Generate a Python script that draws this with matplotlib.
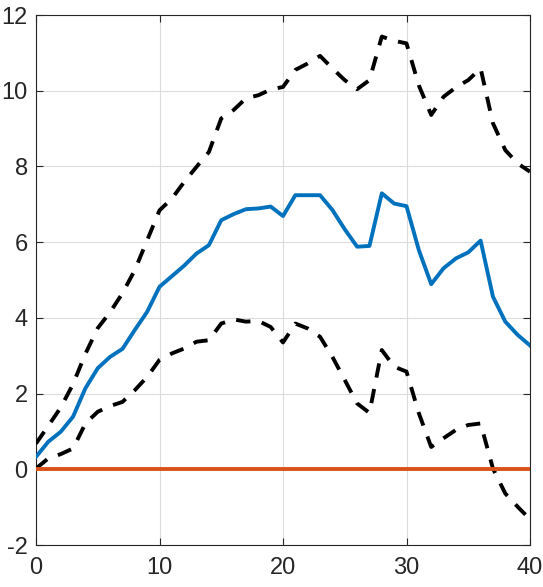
import matplotlib
matplotlib.use("Agg")
import matplotlib.pyplot as plt
import numpy as np

horizon = list(range(0, 41))
median = [0.33, 0.73, 0.99, 1.39, 2.14, 2.67, 2.97, 3.18, 3.68, 4.16,
          4.82, 5.10, 5.38, 5.70, 5.92, 6.58, 6.74, 6.87, 6.89, 6.94,
          6.69, 7.24, 7.24, 7.24, 6.85, 6.34, 5.88, 5.90, 7.29, 7.02,
          6.95, 5.79, 4.89, 5.31, 5.57, 5.73, 6.04, 4.56, 3.90, 3.55,
          3.27]
upper = [0.68, 1.15, 1.63, 2.25, 3.05, 3.73, 4.15, 4.65, 5.26, 6.05,
         6.84, 7.15, 7.59, 7.99, 8.38, 9.27, 9.49, 9.80, 9.88, 10.03,
         10.10, 10.55, 10.72, 10.92, 10.59, 10.28, 10.04, 10.28, 11.43, 11.32,
         11.25, 10.14, 9.36, 9.84, 10.09, 10.28, 10.59, 9.14, 8.43, 8.08,
         7.86]
lower = [0.02, 0.29, 0.40, 0.55, 1.21, 1.52, 1.67, 1.78, 2.09, 2.44,
         2.89, 3.06, 3.19, 3.37, 3.41, 3.85, 3.96, 3.90, 3.92, 3.76,
         3.35, 3.85, 3.72, 3.50, 2.97, 2.36, 1.74, 1.49, 3.15, 2.71,
         2.58, 1.48, 0.59, 0.82, 1.04, 1.17, 1.21, 0.02, -0.64, -0.99,
         -1.32]
zero_line = [0.0] * len(horizon)

xticks = [0, 10, 20, 30, 40]
yticks = [-2, 0, 2, 4, 6, 8, 10, 12]

plt.rcParams['font.family'] = ['Liberation Sans Narrow', 'Liberation Sans', 'DejaVu Sans']
plt.rcParams['axes.unicode_minus'] = False

fig = plt.figure(figsize=(5.43, 5.87), dpi=100)
ax = fig.add_axes([36/543, 1-545/587, (530-36)/543, (545-15)/587])

lw = 2.8
dash = (0, (3.7, 3.0))
ax.plot(horizon, median, color='#0072BD', lw=lw, zorder=3)
ax.plot(horizon, upper, color='black', lw=lw, linestyle=dash, zorder=3)
ax.plot(horizon, lower, color='black', lw=lw, linestyle=dash, zorder=3)
ax.plot(horizon, zero_line, color='#D95319', lw=lw, zorder=4)

ax.set_xlim(0, 40)
ax.set_ylim(-2, 12)
ax.set_xticks(xticks)
ax.set_yticks(yticks)
ax.grid(True, color='#dcdcdc', lw=0.8)
ax.set_axisbelow(True)

for s in ax.spines.values():
    s.set_color('#262626')
    s.set_linewidth(0.8)

ax.tick_params(direction='in', length=5, width=0.8, colors='#262626',
               top=True, right=True, labelsize=17)
ax.tick_params(axis='x', pad=9)
ax.tick_params(axis='y', pad=6)

fig.savefig('out.png', dpi=100)
